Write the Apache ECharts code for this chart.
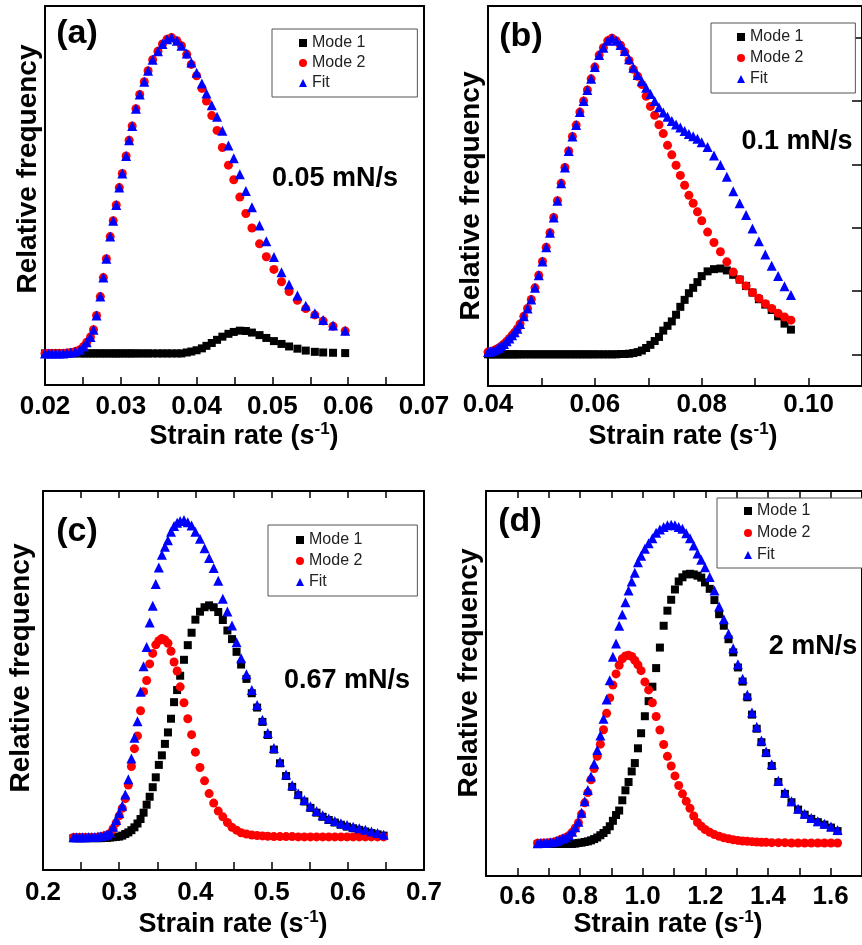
<!DOCTYPE html>
<html><head><meta charset="utf-8">
<script src="https://cdn.jsdelivr.net/npm/echarts@6/dist/echarts.min.js"></script>
<style>html,body{margin:0;padding:0;background:#fff}#main{width:862px;height:945px}</style>
</head><body><div id="main"></div>
<script>
// ---------- Panel (a) 0.05 mN/s ----------
const xA = [0.0200,0.0205,0.0209,0.0214,0.0219,0.0224,0.0229,0.0234,0.0240,0.0246,0.0251,0.0255,0.0260,0.0264,0.0268,0.0273,0.0277,0.0281,0.0286,0.0290,0.0294,0.0298,0.0302,0.0307,0.0311,0.0315,0.0320,0.0325,0.0331,0.0336,0.0342,0.0349,0.0355,0.0361,0.0367,0.0374,0.0380,0.0387,0.0393,0.0400,0.0407,0.0413,0.0420,0.0427,0.0434,0.0442,0.0449,0.0457,0.0465,0.0473,0.0483,0.0492,0.0502,0.0512,0.0522,0.0533,0.0544,0.0556,0.0567,0.0580,0.0596];
const mode1A = [0,0,0,0,0,0,0,0,0,0, 0,0,0,0,0,0,0,0,0,0, 0,0,0,0,0,0,0,0,0,0, 0,0,0,0,0,0,0,
  0.003,0.006,0.01,0.016,0.024,0.033,0.043,0.053,0.062,0.068,0.072,0.071,0.066,0.058,0.049,0.039,0.030,0.022,0.015,0.009,0.005,0.003,0.002,0.001];
const mode2A = [0,0,0,0,0,0,0.001,0.003,0.006,0.012,0.022,0.035,0.052,0.075,0.12,0.18,0.24,0.30,0.37,0.42,0.47,0.525,0.57,0.625,0.675,0.72,0.775,0.82,0.86,0.895,0.93,0.957,0.98,0.995,1.0,0.99,0.974,
  0.947,0.915,0.879,0.839,0.799,0.753,0.706,0.652,0.596,0.55,0.495,0.443,0.397,0.347,0.306,0.266,0.227,0.196,0.168,0.142,0.122,0.103,0.086,0.071];
const fitA = [0,0,0,0,0,0,0.001,0.003,0.006,0.012,0.022,0.035,0.052,0.075,0.12,0.18,0.24,0.30,0.37,0.42,0.47,0.525,0.57,0.625,0.675,0.72,0.775,0.82,0.86,0.895,0.93,0.957,0.98,0.995,1.0,0.99,0.974,
  0.95,0.921,0.889,0.855,0.823,0.786,0.749,0.705,0.658,0.618,0.567,0.514,0.463,0.405,0.355,0.305,0.257,0.218,0.183,0.151,0.127,0.106,0.088,0.072];

// ---------- Panel (b) 0.1 mN/s ----------
const xB = [0.0400,0.0405,0.0410,0.0415,0.0420,0.0425,0.0430,0.0435,0.0440,0.0445,0.0450,0.0455,0.0460,
  0.0467,0.0474,0.0481,0.0488,0.0495,0.0502,0.0509,0.0516,0.0523,0.0530,0.0537,0.0544,0.0551,0.0558,0.0565,0.0572,0.0579,0.0586,0.0593,0.0600,
  0.0608,0.0616,0.0624,0.0632,0.0640,0.0648,0.0656,0.0664,0.0672,0.0680,0.0688,0.0696,0.0704,0.0712,0.0720,0.0728,0.0736,0.0744,0.0752,0.0760,0.0768,0.0776,0.0784,0.0792,0.0800,
  0.0811,0.0823,0.0835,0.0847,0.0859,0.0871,0.0883,0.0895,0.0907,0.0919,0.0931,0.0943,0.0955,0.0967];
const mode1B = [0,0,0,0,0,0,0,0,0,0, 0,0,0,0,0,0,0,0,0,0, 0,0,0,0,0,0,0,0,0,0, 0,0,0,0,0,0,0,0, 0.001,0.001,
  0.002,0.004,0.007,0.012,0.02,0.03,0.042,0.055,0.075,0.09,0.104,0.125,0.15,0.172,0.193,0.21,0.228,0.247,
  0.262,0.269,0.271,0.265,0.251,0.236,0.216,0.195,0.174,0.157,0.14,0.12,0.097,0.078];
const mode2B = [0.007,0.009,0.011,0.015,0.02,0.026,0.033,0.041,0.05,0.06,0.07,0.081,0.096,
  0.12,0.145,0.173,0.21,0.25,0.293,0.338,0.384,0.432,0.485,0.54,0.59,0.642,0.688,0.724,0.765,0.80,0.835,0.87,0.907,
  0.945,0.968,0.99,0.998,0.99,0.976,0.955,0.928,0.90,0.878,0.852,0.815,0.783,0.755,0.725,0.697,0.66,0.63,0.597,0.565,0.534,0.502,0.477,0.45,0.422,
  0.386,0.353,0.324,0.292,0.26,0.236,0.216,0.195,0.177,0.16,0.145,0.13,0.118,0.108];
const fitB = [0.007,0.009,0.011,0.015,0.02,0.026,0.033,0.041,0.05,0.06,0.07,0.081,0.096,
  0.12,0.145,0.173,0.21,0.25,0.293,0.338,0.384,0.432,0.485,0.54,0.59,0.642,0.688,0.724,0.765,0.80,0.835,0.87,0.907,
  0.945,0.968,0.99,0.998,0.99,0.977,0.958,0.932,0.905,0.882,0.862,0.842,0.822,0.80,0.78,0.764,0.75,0.737,0.726,0.716,0.705,0.696,0.689,0.681,0.67,
  0.655,0.628,0.598,0.561,0.515,0.477,0.44,0.397,0.357,0.315,0.28,0.247,0.215,0.187];

// ---------- Panel (c) 0.67 mN/s ----------
const xC = [0.240,0.244,0.248,0.252,0.256,0.260,0.264,0.268,0.272,0.276,0.280,0.284,0.288,0.292,0.296,0.300,
  0.304,0.308,0.312,0.316,0.320,0.324,0.328,0.332,0.336,0.340,0.344,0.348,0.352,0.356,0.360,0.364,0.368,0.372,0.376,0.380,0.385,0.390,0.395,0.400,
  0.406,0.412,0.418,0.424,0.430,0.436,0.442,0.448,0.454,0.460,0.467,0.474,0.481,0.488,0.495,
  0.503,0.511,0.519,0.527,0.535,0.543,0.551,0.559,0.567,0.575,0.583,0.591,0.599,0.607,0.615,0.623,0.631,0.639,0.647];
const mode1C = [0,0,0,0,0,0,0,0,0,0,0.001,0.001,0.002,0.003,0.004,0.005,
  0.008,0.013,0.018,0.025,0.034,0.046,0.06,0.08,0.105,0.13,0.16,0.191,0.23,0.26,0.296,0.332,0.375,0.427,0.465,0.51,0.56,0.606,0.645,0.686,
  0.711,0.725,0.731,0.725,0.71,0.685,0.652,0.625,0.585,0.545,0.50,0.455,0.41,0.365,0.324,
  0.278,0.235,0.195,0.161,0.135,0.115,0.095,0.08,0.067,0.057,0.049,0.042,0.036,0.031,0.026,0.021,0.016,0.012,0.008];
const mode2C = [0.002,0.002,0.002,0.002,0.002,0.002,0.002,0.002,0.003,0.005,0.007,0.010,0.015,0.03,0.048,0.07,
  0.094,0.124,0.167,0.225,0.281,0.321,0.40,0.46,0.495,0.547,0.58,0.607,0.62,0.627,0.622,0.612,0.587,0.553,0.525,0.475,0.425,0.375,0.325,0.27,
  0.222,0.18,0.14,0.11,0.085,0.067,0.049,0.034,0.025,0.017,0.013,0.010,0.008,0.007,0.006,
  0.005,0.005,0.005,0.005,0.004,0.004,0.004,0.004,0.004,0.004,0.004,0.004,0.004,0.004,0.004,0.004,0.004,0.004,0.004];
const fitC = [0.003,0.003,0.003,0.003,0.003,0.004,0.004,0.004,0.005,0.006,0.008,0.011,0.017,0.036,0.057,0.079,
  0.102,0.137,0.185,0.25,0.315,0.367,0.46,0.54,0.60,0.677,0.73,0.798,0.85,0.89,0.915,0.935,0.962,0.98,0.99,0.996,0.999,0.992,0.982,0.962,
  0.94,0.91,0.88,0.848,0.808,0.752,0.712,0.668,0.615,0.565,0.515,0.465,0.418,0.372,0.33,
  0.283,0.24,0.20,0.166,0.14,0.12,0.10,0.085,0.072,0.062,0.054,0.047,0.041,0.036,0.031,0.026,0.021,0.016,0.011];

// ---------- Panel (d) 2 mN/s ----------
const xD = [0.665,0.675,0.685,0.695,0.705,0.715,0.725,0.735,0.745,0.755,0.765,0.775,0.785,0.795,
  0.805,0.815,0.825,0.835,0.845,0.855,0.865,0.875,0.885,0.895,0.905,0.915,0.925,0.935,0.945,0.955,0.965,0.975,0.985,0.995,
  1.007,1.019,1.031,1.043,1.055,1.067,1.079,1.091,1.103,1.115,1.127,1.139,1.151,1.163,1.175,1.187,1.199,
  1.214,1.229,1.244,1.259,1.274,1.289,1.304,1.319,1.334,1.349,1.364,1.379,1.394,
  1.412,1.433,1.454,1.475,1.496,1.517,1.538,1.559,1.580,1.601,1.622];
const mode1D = [0,0,0,0,0,0,0,0,0,0,0,0,0.001,0.003,
  0.004,0.006,0.008,0.011,0.015,0.02,0.027,0.034,0.043,0.055,0.072,0.09,0.104,0.136,0.167,0.193,0.226,0.252,0.298,0.345,
  0.398,0.445,0.49,0.548,0.612,0.68,0.727,0.761,0.793,0.818,0.831,0.84,0.842,0.84,0.836,0.83,0.815,
  0.795,0.76,0.716,0.68,0.638,0.597,0.55,0.506,0.457,0.403,0.359,0.317,0.283,
  0.243,0.193,0.156,0.13,0.107,0.091,0.078,0.068,0.06,0.051,0.04];
const mode2D = [0.002,0.002,0.003,0.003,0.004,0.005,0.008,0.012,0.016,0.02,0.026,0.036,0.05,0.066,
  0.093,0.128,0.16,0.2,0.235,0.273,0.311,0.356,0.407,0.455,0.495,0.53,0.557,0.577,0.586,0.588,0.584,0.572,0.558,0.54,
  0.505,0.48,0.44,0.397,0.355,0.31,0.273,0.243,0.212,0.182,0.156,0.133,0.111,0.087,0.067,0.055,0.045,
  0.036,0.029,0.024,0.019,0.016,0.013,0.011,0.009,0.008,0.007,0.006,0.005,0.005,
  0.004,0.004,0.004,0.003,0.003,0.003,0.003,0.003,0.003,0.003,0.003];
const fitD = [0.002,0.003,0.003,0.004,0.005,0.006,0.009,0.013,0.017,0.021,0.027,0.038,0.052,0.069,
  0.097,0.133,0.168,0.21,0.25,0.293,0.338,0.39,0.45,0.51,0.583,0.625,0.68,0.715,0.753,0.79,0.818,0.845,0.878,0.898,
  0.92,0.937,0.953,0.97,0.98,0.988,0.993,0.995,0.993,0.988,0.982,0.968,0.953,0.93,0.905,0.886,0.862,
  0.832,0.79,0.74,0.70,0.655,0.61,0.56,0.515,0.465,0.41,0.365,0.322,0.288,
  0.248,0.197,0.16,0.133,0.11,0.094,0.081,0.071,0.063,0.054,0.043];

// axis ranges [min, max, interval]
const xRangeA = [0.02, 0.07, 0.01];
const xRangeB = [0.04, 0.11, 0.02];
const xRangeC = [0.2, 0.7, 0.1];
const xRangeD = [0.5, 1.7, 0.1];
const panelLabels = ['(a)', '(b)', '(c)', '(d)'];
const rateLabels = ['0.05 mN/s', '0.1 mN/s', '0.67 mN/s', '2 mN/s'];
const seriesNames = ['Mode 1', 'Mode 2', 'Fit'];

const FONT = 'Liberation Sans';
const chart = echarts.init(document.getElementById('main'), null, {renderer: 'canvas'});

const panels = [
  {x: xA, m1: mode1A, m2: mode2A, fit: fitA, r: xRangeA, grid: {left: 45, top: 6, width: 379, height: 379}, yMax: 1.1,
   fmt: v => v.toFixed(2), margin: 9, topTicks: false, showMax: true,
   legend: {left: 272, top: 29, padding: [6, 52, 6, 27], gap: 4},
   lab: [77, 34], rate: [335, 179], yName: [28, 169], xName: [244, 437]},
  {x: xB, m1: mode1B, m2: mode2B, fit: fitB, r: xRangeB, grid: {left: 488, top: 6, width: 380, height: 380}, yMax: 1.1,
   fmt: v => v.toFixed(2), margin: 6, topTicks: false, showMax: false,
   legend: {left: 711, top: 23, padding: [6, 52, 6, 26], gap: 5},
   lab: [521, 37], rate: [797, 142], yName: [471, 196], xName: [683, 437]},
  {x: xC, m1: mode1C, m2: mode2C, fit: fitC, r: xRangeC, grid: {left: 43, top: 491, width: 381, height: 379}, yMax: 1.09,
   fmt: v => v.toFixed(1), margin: 10, topTicks: true, showMax: true,
   legend: {left: 268, top: 525, padding: [7, 55, 6, 28], gap: 5},
   lab: [77, 532], rate: [347, 681], yName: [21, 668], xName: [233, 925]},
  {x: xD, m1: mode1D, m2: mode2D, fit: fitD, r: xRangeD, grid: {left: 486, top: 491, width: 385, height: 385}, yMax: 1.1,
   fmt: v => (Math.round(v * 10) % 2 === 0 ? v.toFixed(1) : ''), margin: 8, topTicks: true, showMax: false,
   legend: {left: 717, top: 498, padding: [5, 120, 5, 27], gap: 6},
   lab: [520, 522], rate: [813, 647], yName: [469, 673], xName: [668, 925]}
];

const lineStyle = {color: '#000', width: 2};
const tickStyle = {color: '#000', width: 1.5};
const option = {animation: false, backgroundColor: '#fff', grid: [], xAxis: [], yAxis: [], series: [], legend: [], graphic: []};

panels.forEach((p, i) => {
  option.grid.push(Object.assign({containLabel: false}, p.grid));
  option.xAxis.push({
    type: 'value', gridIndex: i, position: 'bottom', min: p.r[0], max: p.r[1], interval: p.r[2],
    axisLine: {show: true, onZero: false, lineStyle},
    axisTick: {show: true, inside: true, length: 8, lineStyle: tickStyle},
    minorTick: {show: i !== 3, splitNumber: 2, length: 8, lineStyle: tickStyle},
    splitLine: {show: false}, minorSplitLine: {show: false},
    axisLabel: {color: '#000', fontFamily: FONT, fontWeight: 'bold', fontSize: 26, margin: p.margin,
      formatter: p.fmt, showMaxLabel: p.showMax, showMinLabel: true}
  });
  option.xAxis.push({
    type: 'value', gridIndex: i, position: 'top', min: p.r[0], max: p.r[1], interval: p.r[2],
    axisLine: {show: true, onZero: false, lineStyle},
    axisTick: {show: p.topTicks, inside: true, length: 7, lineStyle: tickStyle},
    minorTick: {show: p.topTicks && i !== 3, splitNumber: 2, length: 7, lineStyle: tickStyle},
    splitLine: {show: false}, axisLabel: {show: false}
  });
  option.yAxis.push({
    type: 'value', gridIndex: i, position: 'left', min: -0.1, max: p.yMax,
    axisLine: {show: true, onZero: false, lineStyle},
    axisTick: {show: false}, axisLabel: {show: false}, splitLine: {show: false}
  });
  option.yAxis.push({
    type: 'value', gridIndex: i, position: 'right', min: -0.1, max: p.yMax,
    axisLine: {show: true, onZero: false, lineStyle},
    axisTick: {show: i === 1, inside: true, length: 10, lineStyle: tickStyle, customValues: [0, 0.2, 0.4, 0.6, 0.8, 1.0]},
    axisLabel: {show: false}, splitLine: {show: false}
  });
  const pts = ys => p.x.map((x, k) => [x, ys[k]]);
  const common = {type: 'scatter', xAxisIndex: 2 * i, yAxisIndex: 2 * i, silent: true};
  option.series.push(Object.assign({name: seriesNames[0], symbol: 'rect', symbolSize: 8, itemStyle: {color: '#000000', opacity: 1}, data: pts(p.m1), z: 2}, common));
  option.series.push(Object.assign({name: seriesNames[1], symbol: 'circle', symbolSize: 9, itemStyle: {color: '#ff0000', opacity: 1}, data: pts(p.m2), z: 3}, common));
  option.series.push(Object.assign({name: seriesNames[2], symbol: 'triangle', symbolSize: 10, itemStyle: {color: '#0000ff', opacity: 1}, data: pts(p.fit), z: 4}, common));

  option.legend.push({
    orient: 'vertical', left: p.legend.left, top: p.legend.top, padding: p.legend.padding, itemGap: p.legend.gap,
    itemWidth: 8, itemHeight: 8, borderColor: '#555', borderWidth: 1, backgroundColor: '#fff', selectedMode: false,
    textStyle: {fontFamily: FONT, fontSize: 16, color: '#222', lineHeight: 16},
    data: [{name: seriesNames[0], icon: 'rect'}, {name: seriesNames[1], icon: 'circle'}, {name: seriesNames[2], icon: 'triangle'}]
  });

  option.graphic.push({type: 'text', x: p.lab[0], y: p.lab[1], z: 10,
    style: {text: panelLabels[i], fill: '#000', font: 'bold 34px ' + FONT, textAlign: 'center', textVerticalAlign: 'middle'}});
  option.graphic.push({type: 'text', x: p.rate[0], y: p.rate[1], z: 10,
    style: {text: rateLabels[i], fill: '#000', font: 'bold 27px ' + FONT, textAlign: 'center', textVerticalAlign: 'middle'}});
  option.graphic.push({type: 'text', x: p.yName[0], y: p.yName[1], rotation: Math.PI / 2, z: 10,
    style: {text: 'Relative frequency', fill: '#000', font: 'bold 28px ' + FONT, textAlign: 'center', textVerticalAlign: 'middle'}});
  option.graphic.push({type: 'text', x: p.xName[0], y: p.xName[1], z: 10,
    style: {text: '{t|Strain rate (s}{s|-1}{t|)}', fill: '#000', textAlign: 'center', textVerticalAlign: 'middle',
      rich: {t: {fontFamily: FONT, fontWeight: 'bold', fontSize: 27, lineHeight: 32, fill: '#000'},
             s: {fontFamily: FONT, fontWeight: 'bold', fontSize: 17, lineHeight: 12, verticalAlign: 'top', fill: '#000'}}}});
});

chart.setOption(option);
</script></body></html>
